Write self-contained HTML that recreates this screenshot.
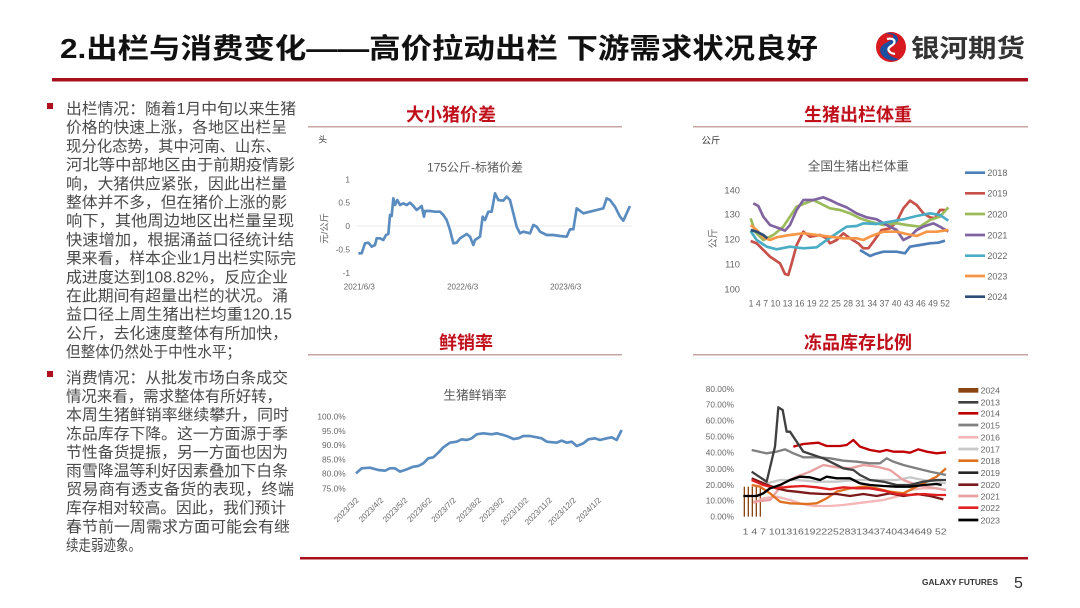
<!DOCTYPE html>
<html><head><meta charset="utf-8"><style>
html,body{margin:0;padding:0;background:#fff;}
svg{display:block;font-family:"Liberation Sans","Noto Sans CJK SC",sans-serif;}
</style></head><body>
<svg width="1080" height="608" viewBox="0 0 1080 608" xmlns="http://www.w3.org/2000/svg">
<rect width="1080" height="608" fill="#fff"/>
<text x="60" y="58" font-size="28" font-weight="bold" fill="#111" textLength="758" lengthAdjust="spacingAndGlyphs">2.出栏与消费变化——高价拉动出栏 下游需求状况良好</text>
<g transform="translate(891,47)">
<circle r="15" fill="#d71920"/>
<path d="M-6,-14 C6,-16 12,-6 2,-2 C-8,2 -4,10 8,12 C-2,17 -14,8 -10,0 C-6,-6 4,-6 2,-12 Z" fill="#1b4fa0"/>
<path d="M-4,-8 C4,-10 6,-4 0,-1 C-5,2 -2,6 4,7" stroke="#fff" stroke-width="2.2" fill="none"/>
</g>
<text x="911" y="57" font-size="25" font-weight="bold" fill="#333" textLength="114" lengthAdjust="spacingAndGlyphs">银河期货</text>
<rect x="52" y="78" width="976" height="3.5" fill="#a8101c"/>
<rect x="47" y="103" width="6" height="6" fill="#b0101c"/>
<rect x="47" y="371" width="6" height="6" fill="#b0101c"/>
<g font-size="15.5" fill="#4a4a4a">
<text x="66" y="114" textLength="230" lengthAdjust="spacingAndGlyphs">出栏情况：随着1月中旬以来生猪</text>
<text x="66" y="132.7" textLength="221" lengthAdjust="spacingAndGlyphs">价格的快速上涨，各地区出栏呈</text>
<text x="66" y="151.4" textLength="215" lengthAdjust="spacingAndGlyphs">现分化态势，其中河南、山东、</text>
<text x="66" y="170.1" textLength="229" lengthAdjust="spacingAndGlyphs">河北等中部地区由于前期疫情影</text>
<text x="66" y="188.8" textLength="221" lengthAdjust="spacingAndGlyphs">响，大猪供应紧张，因此出栏量</text>
<text x="66" y="207.5" textLength="221" lengthAdjust="spacingAndGlyphs">整体并不多，但在猪价上涨的影</text>
<text x="66" y="226.2" textLength="228" lengthAdjust="spacingAndGlyphs">响下，其他周边地区出栏量呈现</text>
<text x="66" y="244.9" textLength="228" lengthAdjust="spacingAndGlyphs">快速增加，根据涌益口径统计结</text>
<text x="66" y="263.6" textLength="230" lengthAdjust="spacingAndGlyphs">果来看，样本企业1月出栏实际完</text>
<text x="66" y="282.3" textLength="222" lengthAdjust="spacingAndGlyphs">成进度达到108.82%，反应企业</text>
<text x="66" y="301" textLength="222" lengthAdjust="spacingAndGlyphs">在此期间有超量出栏的状况。涌</text>
<text x="66" y="319.7" textLength="226" lengthAdjust="spacingAndGlyphs">益口径上周生猪出栏均重120.15</text>
<text x="66" y="338.4" textLength="222" lengthAdjust="spacingAndGlyphs">公斤，去化速度整体有所加快，</text>
<text x="66" y="357.1" textLength="175" lengthAdjust="spacingAndGlyphs">但整体仍然处于中性水平；</text>
<text x="66" y="383" textLength="222" lengthAdjust="spacingAndGlyphs">消费情况：从批发市场白条成交</text>
<text x="66" y="401.6" textLength="216" lengthAdjust="spacingAndGlyphs">情况来看，需求整体有所好转，</text>
<text x="66" y="420.2" textLength="223" lengthAdjust="spacingAndGlyphs">本周生猪鲜销率继续攀升，同时</text>
<text x="66" y="438.8" textLength="222" lengthAdjust="spacingAndGlyphs">冻品库存下降。这一方面源于季</text>
<text x="66" y="457.4" textLength="222" lengthAdjust="spacingAndGlyphs">节性备货提振，另一方面也因为</text>
<text x="66" y="476" textLength="222" lengthAdjust="spacingAndGlyphs">雨雪降温等利好因素叠加下白条</text>
<text x="66" y="494.6" textLength="228" lengthAdjust="spacingAndGlyphs">贸易商有透支备货的表现，终端</text>
<text x="66" y="513.2" textLength="220" lengthAdjust="spacingAndGlyphs">库存相对较高。因此，我们预计</text>
<text x="66" y="531.8" textLength="224" lengthAdjust="spacingAndGlyphs">春节前一周需求方面可能会有继</text>
<text x="66" y="550.4" textLength="75" lengthAdjust="spacingAndGlyphs">续走弱迹象。</text>
</g>
<g font-size="18" font-weight="bold" fill="#c0101c" text-anchor="middle">
<text x="451" y="121">大小猪价差</text>
<text x="858" y="121">生猪出栏体重</text>
<text x="466" y="349">鲜销率</text>
<text x="858" y="349">冻品库存比例</text>
</g>
<g fill="#c9a4a6">
<rect x="308" y="126" width="314" height="1.5"/>
<rect x="693" y="126" width="335" height="1.5"/>
<rect x="308" y="354" width="314" height="1.5"/>
<rect x="693" y="354" width="335" height="1.5"/>
</g>

<g transform="translate(300,130) scale(0.33333)">
<text x="55" y="38" font-size="26" fill="#333">头</text>
<text x="525" y="125" font-size="36" fill="#595959" text-anchor="middle">175公斤-标猪价差</text>
<g font-size="25" fill="#666" text-anchor="end">
<text x="150" y="158">1</text><text x="150" y="227">0.5</text><text x="150" y="297">0</text><text x="150" y="367">-0.5</text><text x="150" y="438">-1</text>
</g>
<text transform="translate(82,295) rotate(-90)" font-size="28" fill="#666" text-anchor="middle">元/公斤</text>
<line x1="170" y1="288" x2="995" y2="288" stroke="#e0e0e0" stroke-width="2"/>
<g font-size="24" fill="#666" text-anchor="middle">
<text x="178" y="478">2021/6/3</text><text x="488" y="478">2022/6/3</text><text x="797" y="478">2023/6/3</text>
</g>
<polyline fill="none" stroke="#5b8cc0" stroke-width="8" stroke-linejoin="round" points="175,370 185,370 195,340 205,338 215,350 225,345 230,325 240,325 250,330 258,315 265,312 270,255 275,258 280,205 285,225 292,210 300,225 310,220 320,225 330,218 340,228 350,240 365,228 372,260 375,243 390,243 405,245 420,245 430,255 440,270 450,300 460,340 470,338 480,325 500,312 510,320 520,345 525,330 540,320 548,260 555,270 565,245 575,245 585,190 595,210 610,212 620,200 630,210 640,250 650,290 660,310 670,305 690,310 700,285 710,290 720,305 740,315 760,315 780,318 800,320 810,298 820,298 830,235 850,250 870,245 890,240 910,235 920,205 930,210 945,230 960,260 970,272 980,250 990,228"/>
</g>

<g transform="translate(690,130) scale(0.33333)">
<text x="35" y="40" font-size="28" fill="#333">公斤</text>
<text x="505" y="122" font-size="38" fill="#595959" text-anchor="middle">全国生猪出栏体重</text>
<g font-size="28" fill="#666" text-anchor="end">
<text x="150" y="190">140</text><text x="150" y="263">130</text><text x="150" y="337">120</text><text x="150" y="412">110</text><text x="150" y="487">100</text>
</g>
<text transform="translate(80,325) rotate(-90)" font-size="30" fill="#666" text-anchor="middle">公斤</text>
<text x="176" y="530" font-size="27" fill="#666" textLength="604" lengthAdjust="spacingAndGlyphs">1   4   7  10 13 16 19 22 25 28 31 34 37 40 43 46 49 52</text>
<g fill="none" stroke-width="8" stroke-linejoin="round">
<polyline stroke="#4e7fb8" points="510,360 540,378 555,372 580,365 620,365 645,370 660,350 690,345 720,340 745,338 765,332"/>
<polyline stroke="#c8504a" points="182,333 200,340 220,360 240,380 270,400 285,432 295,435 305,400 320,345 340,305 360,320 390,315 410,325 420,340 440,330 460,310 480,325 505,340 520,355 535,355 550,335 575,300 600,295 620,275 640,235 660,212 680,225 700,250 720,262 735,265 750,240 765,240"/>
<polyline stroke="#9bbb59" points="182,265 195,305 220,330 250,315 280,290 300,260 320,230 345,220 370,210 390,220 420,235 450,240 480,250 510,265 540,275 580,285 620,280 650,285 690,290 720,270 750,260 775,232"/>
<polyline stroke="#8064a2" points="190,220 205,228 220,260 240,285 260,292 285,302 300,285 320,240 340,210 370,210 400,202 420,210 440,220 470,232 500,250 530,262 560,268 590,285 620,300 640,330 660,320 680,300 700,290 730,280 750,290 775,305"/>
<polyline stroke="#4bacc6" points="182,303 200,330 230,350 260,358 300,350 340,355 380,352 410,330 440,310 470,290 500,288 520,280 560,282 600,275 640,268 680,258 720,250 750,255 775,272"/>
<polyline stroke="#f79646" points="182,285 200,300 220,322 240,330 260,322 300,315 340,310 380,315 420,320 460,325 500,325 520,330 540,320 580,305 620,305 650,312 680,318 710,305 740,305 775,300"/>
<polyline stroke="#2c4d75" points="182,300 200,305 220,315 232,325"/>
</g>
<g stroke-width="8">
<line x1="825" y1="128" x2="885" y2="128" stroke="#4e7fb8"/>
<line x1="825" y1="190" x2="885" y2="190" stroke="#c8504a"/>
<line x1="825" y1="252" x2="885" y2="252" stroke="#9bbb59"/>
<line x1="825" y1="315" x2="885" y2="315" stroke="#8064a2"/>
<line x1="825" y1="377" x2="885" y2="377" stroke="#4bacc6"/>
<line x1="825" y1="438" x2="885" y2="438" stroke="#f79646"/>
<line x1="825" y1="500" x2="885" y2="500" stroke="#2c4d75"/>
</g>
<g font-size="27" fill="#666">
<text x="892" y="138">2018</text><text x="892" y="200">2019</text><text x="892" y="262">2020</text><text x="892" y="325">2021</text><text x="892" y="387">2022</text><text x="892" y="448">2023</text><text x="892" y="510">2024</text>
</g>
</g>

<g transform="translate(300,370) scale(0.33333)">
<text x="525" y="88" font-size="38" fill="#595959" text-anchor="middle">生猪鲜销率</text>
<g font-size="25" fill="#666" text-anchor="end">
<text x="137" y="149">100.0%</text><text x="137" y="192">95.0%</text><text x="137" y="234">90.0%</text><text x="137" y="277">85.0%</text><text x="137" y="320">80.0%</text><text x="137" y="364">75.0%</text>
</g>
<g font-size="24" fill="#666" text-anchor="end">
<text transform="translate(178,392) rotate(-45)">2023/3/2</text>
<text transform="translate(252,392) rotate(-45)">2023/4/2</text>
<text transform="translate(324,392) rotate(-45)">2023/5/2</text>
<text transform="translate(397,392) rotate(-45)">2023/6/2</text>
<text transform="translate(470,392) rotate(-45)">2023/7/2</text>
<text transform="translate(545,392) rotate(-45)">2023/8/2</text>
<text transform="translate(614,392) rotate(-45)">2023/9/2</text>
<text transform="translate(687,392) rotate(-45)">2023/10/2</text>
<text transform="translate(758,392) rotate(-45)">2023/11/2</text>
<text transform="translate(830,392) rotate(-45)">2023/12/2</text>
<text transform="translate(905,392) rotate(-45)">2024/1/2</text>
</g>
<polyline fill="none" stroke="#5b8cc0" stroke-width="8" stroke-linejoin="round" points="168,310 185,295 210,293 235,300 255,302 270,295 285,295 300,305 320,298 340,290 355,288 370,280 385,265 400,262 415,248 430,232 450,218 470,215 485,208 500,210 515,205 530,193 550,190 575,193 590,190 610,195 625,200 640,207 655,205 670,198 690,198 710,202 725,205 740,215 770,218 785,212 800,218 815,215 830,228 850,220 865,208 885,205 900,210 920,205 935,202 950,210 965,180"/>
</g>

<g transform="translate(690,370) scale(0.33333)">
<g font-size="25" fill="#666" text-anchor="end">
<text x="132" y="66">80.00%</text><text x="132" y="113">70.00%</text><text x="132" y="161">60.00%</text><text x="132" y="209">50.00%</text><text x="132" y="256">40.00%</text><text x="132" y="306">30.00%</text><text x="132" y="354">20.00%</text><text x="132" y="401">10.00%</text><text x="132" y="449">0.00%</text>
</g>
<text x="158" y="494" font-size="26" fill="#666" textLength="612" lengthAdjust="spacingAndGlyphs">1  4  7 1013161922252831343740434649 52</text>
<g stroke="#8b4513" stroke-width="4">
<line x1="163" y1="350" x2="163" y2="440"/><line x1="175" y1="350" x2="175" y2="440"/><line x1="187" y1="350" x2="187" y2="440"/><line x1="199" y1="350" x2="199" y2="440"/><line x1="211" y1="350" x2="211" y2="440"/>
</g>
<g fill="none" stroke-width="7" stroke-linejoin="round">
<polyline stroke="#f4b6b6" points="190,400 220,385 260,380 300,390 330,400 370,408 420,408 460,405 500,400 540,395 580,390 620,380 660,360 700,355 740,355 768,360"/>
<polyline stroke="#c8c8c8" points="185,330 230,340 270,330 320,330 380,335 440,335 500,330 560,330 620,330 660,322 700,330 740,335 768,340"/>
<polyline stroke="#e8a0a0" points="190,395 240,390 280,340 320,320 360,305 400,285 440,292 480,295 520,285 560,290 600,300 640,330 680,345 720,352 768,360"/>
<polyline stroke="#e07020" points="185,345 210,350 240,370 270,395 300,400 350,402 380,400 410,385 440,365 480,355 520,350 560,355 600,365 640,370 670,355 700,340 740,320 768,295"/>
<polyline stroke="#7b1a1a" points="185,325 220,340 260,355 290,362 320,365 360,370 400,372 440,372 480,378 520,372 560,378 600,370 640,378 680,372 720,378 760,388"/>
<polyline stroke="#e02020" points="185,330 220,345 260,355 300,350 340,348 380,352 420,358 460,352 500,355 540,355 580,362 620,372 660,375 700,372 740,375 768,375"/>
<polyline stroke="#808080" points="185,240 230,250 260,245 285,238 310,250 340,262 380,262 420,265 460,272 500,275 540,280 570,280 590,265 610,275 640,285 680,295 720,305 768,315"/>
<polyline stroke="#c00000" points="310,230 340,222 385,218 410,228 450,228 470,225 490,210 510,230 540,240 570,245 590,240 610,245 640,245 660,248 685,238 710,245 740,250 768,247"/>
<polyline stroke="#404040" points="185,305 230,335 255,230 265,112 278,120 290,185 300,185 320,215 340,245 370,255 400,265 430,280 460,295 490,300 510,315 540,330 580,335 620,345 660,345 700,335 740,330 768,330"/>
<polyline stroke="#000" points="160,378 200,378 220,370 240,355 270,345 300,330 330,320 360,322 390,330 410,320 440,325 480,325 510,340 540,345 580,348 620,350 660,350 700,345 740,342 755,345"/>
</g>
<rect x="805" y="54" width="60" height="14" fill="#8b4513"/>
<g stroke-width="8">
<line x1="805" y1="97" x2="865" y2="97" stroke="#404040"/>
<line x1="805" y1="130" x2="865" y2="130" stroke="#c00000"/>
<line x1="805" y1="165" x2="865" y2="165" stroke="#808080"/>
<line x1="805" y1="202" x2="865" y2="202" stroke="#f4b6b6"/>
<line x1="805" y1="237" x2="865" y2="237" stroke="#c8c8c8"/>
<line x1="805" y1="272" x2="865" y2="272" stroke="#e07020"/>
<line x1="805" y1="308" x2="865" y2="308" stroke="#262626"/>
<line x1="805" y1="344" x2="865" y2="344" stroke="#7b1a1a"/>
<line x1="805" y1="378" x2="865" y2="378" stroke="#e8a0a0"/>
<line x1="805" y1="413" x2="865" y2="413" stroke="#e02020"/>
<line x1="805" y1="450" x2="865" y2="450" stroke="#000"/>
</g>
<g font-size="26" fill="#666">
<text x="872" y="70">2024</text><text x="872" y="106">2013</text><text x="872" y="140">2014</text><text x="872" y="175">2015</text><text x="872" y="212">2016</text><text x="872" y="247">2017</text><text x="872" y="282">2018</text><text x="872" y="318">2019</text><text x="872" y="354">2020</text><text x="872" y="388">2021</text><text x="872" y="423">2022</text><text x="872" y="460">2023</text>
</g>
</g>

<rect x="300" y="557" width="728" height="2.5" fill="#a8101c"/>
<text x="922" y="585" font-size="8" font-weight="bold" fill="#333" textLength="76" lengthAdjust="spacingAndGlyphs">GALAXY FUTURES</text>
<text x="1014" y="588" font-size="16" fill="#333">5</text>
</svg>
</body></html>
